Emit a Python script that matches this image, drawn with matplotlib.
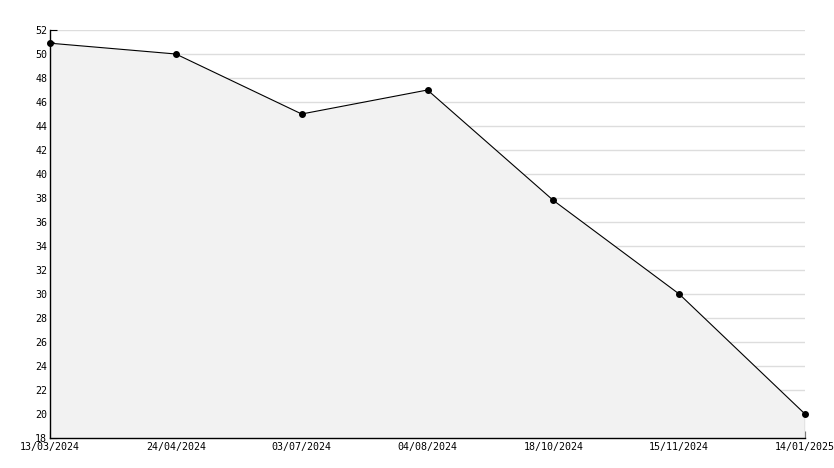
import matplotlib
matplotlib.use('Agg')
import matplotlib.pyplot as plt
from matplotlib.ticker import MultipleLocator

dates = ['13/03/2024', '24/04/2024', '03/07/2024', '04/08/2024',
         '18/10/2024', '15/11/2024', '14/01/2025']
values = [50.9, 50.0, 45.0, 47.0, 37.8, 30.0, 20.0]

plt.rcParams['font.family'] = 'DejaVu Sans Mono'

fig = plt.figure(figsize=(8.34, 4.68), dpi=100)
ax = fig.add_axes([50/834, 30/468, 755/834, 408/468])

x = list(range(len(dates)))
ax.fill_between(x, values, 18, color='#f2f2f2', zorder=2, linewidth=0)
ax.plot([x[-1], x[-1]], [18, values[-1]], color='black', lw=0.8, zorder=3)
ax.plot(x, values, color='black', lw=0.8, marker='o', markersize=4, zorder=4, clip_on=False)

ax.set_xlim(0, len(dates) - 1)
ax.set_ylim(18, 52)
ax.set_xticks(x)
ax.set_xticklabels(dates)
ax.yaxis.set_major_locator(MultipleLocator(2))
ax.yaxis.set_minor_locator(MultipleLocator(1))
ax.tick_params(axis='both', direction='in', labelsize=7.2, length=5, width=0.8, pad=2)
ax.tick_params(axis='y', which='minor', direction='in', length=3, width=0.8)
ax.tick_params(axis='x', pad=3)

ax.grid(axis='y', color='#dddddd', lw=1, zorder=1)
ax.set_axisbelow(True)
for s in ['top', 'right']:
    ax.spines[s].set_visible(False)
ax.spines['left'].set_linewidth(1)
ax.spines['bottom'].set_linewidth(1)
ax.spines['left'].set_zorder(5)
ax.spines['bottom'].set_zorder(5)

fig.savefig('out.png', dpi=100)
